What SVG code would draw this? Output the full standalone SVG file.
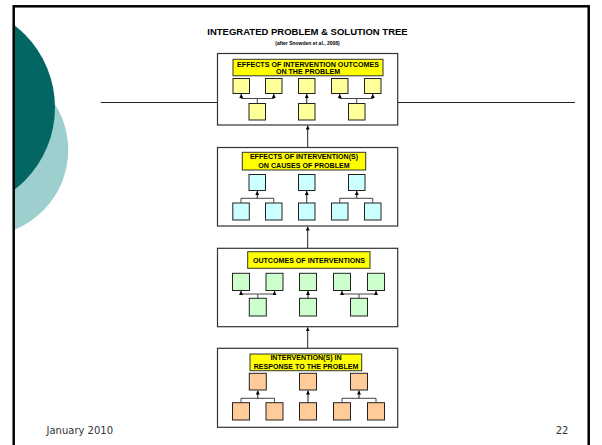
<svg xmlns="http://www.w3.org/2000/svg" width="602" height="445" viewBox="0 0 602 445">
<defs>
<clipPath id="frame"><rect x="15" y="7.5" width="572" height="440"/></clipPath>
<marker id="ah" viewBox="0 0 6 6" refX="6" refY="3" markerWidth="4" markerHeight="4" markerUnits="userSpaceOnUse" orient="auto"><path d="M0,0 L6,3 L0,6 z" fill="#000"/></marker>
</defs>
<style>
.panel{fill:#fff;stroke:#333;stroke-width:1.2}
.lbl{fill:#ffff00;stroke:#333;stroke-width:1}
.lt{font-family:"Liberation Sans",Arial,sans-serif;font-weight:bold;font-size:7.1px;text-anchor:middle;fill:#000}
.sq{stroke:#222;stroke-width:1}
.y{fill:#ffff99}.c{fill:#ccffff}.g{fill:#ccffcc}.o{fill:#ffcc99}
.cn{fill:none;stroke:#444;stroke-width:1}
.ar{fill:none;stroke:#222;stroke-width:1;marker-end:url(#ah)}
.ft{font-family:"DejaVu Sans",Verdana,sans-serif;font-size:10px;fill:#333}
</style>
<rect width="602" height="445" fill="#fff"/>
<g id="decor" clip-path="url(#frame)">
<circle cx="-17.8" cy="150" r="86" fill="#9dcfcf"/>
<circle cx="-48.5" cy="107.5" r="103.5" fill="#036662"/>
</g>
<rect id="slide-frame" x="13.7" y="6.3" width="575" height="460" fill="none" stroke="#000" stroke-width="2.5"/>
<g id="title">
<text x="307.5" y="35" font-family="Liberation Sans, Arial, sans-serif" font-weight="bold" font-size="9.5" text-anchor="middle">INTEGRATED PROBLEM &amp; SOLUTION TREE</text>
<text x="307.5" y="44.5" font-family="Liberation Sans, Arial, sans-serif" font-weight="bold" font-size="5" text-anchor="middle">(after Snowden et al., 2008)</text>
</g>
<g id="connectors">
<path d="M100.7,102.5 H217.5 M397.7,102.5 H575" stroke="#222" stroke-width="1" fill="none"/>
<path class="ar" d="M307.7,147.5 V125.5"/>
<path class="ar" d="M307.7,248.3 V226.5"/>
<path class="ar" d="M307.7,348.3 V327.2"/>
</g>
<g id="panel-effects-problem">
<rect class="panel" x="217.5" y="53.5" width="180.2" height="71.5"/>
<rect class="lbl" x="233" y="59.3" width="150" height="16.5"/>
<text class="lt" x="308" y="67.3">EFFECTS OF INTERVENTION OUTCOMES</text>
<text class="lt" x="308" y="74">ON THE PROBLEM</text>
<rect class="sq y" x="233" y="78.5" width="16.5" height="15"/>
<rect class="sq y" x="265.5" y="78.5" width="16.5" height="15"/>
<rect class="sq y" x="298.5" y="78.5" width="16.5" height="15"/>
<rect class="sq y" x="331.5" y="78.5" width="16.5" height="15"/>
<rect class="sq y" x="364.5" y="78.5" width="16.5" height="15"/>
<rect class="sq y" x="249" y="103.5" width="16.5" height="16.5"/>
<rect class="sq y" x="298.5" y="103.5" width="16.5" height="16.5"/>
<rect class="sq y" x="348.5" y="103.5" width="16.5" height="16.5"/>
<path class="cn" d="M257.25,103.5 V98.5 M241.25,98.5 H273.75 M356.75,103.5 V98.5 M339.75,98.5 H372.75"/>
<path class="ar" d="M241.25,98.5 V94"/>
<path class="ar" d="M273.75,98.5 V94"/>
<path class="ar" d="M306.75,103.5 V94"/>
<path class="ar" d="M339.75,98.5 V94"/>
<path class="ar" d="M372.75,98.5 V94"/>
</g>
<g id="panel-effects-causes">
<rect class="panel" x="217.5" y="147.5" width="180.2" height="78.5"/>
<rect class="lbl" x="242.3" y="152.3" width="123.4" height="17.7"/>
<text class="lt" x="304" y="159.3">EFFECTS OF INTERVENTION(S)</text>
<text class="lt" x="304" y="167.6">ON CAUSES OF PROBLEM</text>
<rect class="sq c" x="249" y="174.5" width="16.5" height="16"/>
<rect class="sq c" x="298.5" y="174.5" width="16.5" height="16"/>
<rect class="sq c" x="348.5" y="174.5" width="16.5" height="16"/>
<rect class="sq c" x="232.8" y="203" width="16.5" height="17"/>
<rect class="sq c" x="265.5" y="203" width="16.5" height="17"/>
<rect class="sq c" x="298.5" y="203" width="16.5" height="17"/>
<rect class="sq c" x="331.5" y="203" width="16.5" height="17"/>
<rect class="sq c" x="364.5" y="203" width="16.5" height="17"/>
<path class="cn" d="M241,203 V198.3 H273.75 V203 M339.75,203 V198.3 H372.75 V203"/>
<path class="ar" d="M257.25,198.3 V191"/>
<path class="ar" d="M306.75,203 V191"/>
<path class="ar" d="M356.75,198.3 V191"/>
</g>
<g id="panel-outcomes">
<rect class="panel" x="217.5" y="248.3" width="180.2" height="78.4"/>
<rect class="lbl" x="247.7" y="251.7" width="122.3" height="16.6"/>
<text class="lt" x="309" y="263.3">OUTCOMES OF INTERVENTIONS</text>
<rect class="sq g" x="232.5" y="273.3" width="17" height="17.2"/>
<rect class="sq g" x="266" y="273.3" width="17" height="17.2"/>
<rect class="sq g" x="299.5" y="273.3" width="17" height="17.2"/>
<rect class="sq g" x="333.5" y="273.3" width="17" height="17.2"/>
<rect class="sq g" x="367.5" y="273.3" width="17" height="17.2"/>
<rect class="sq g" x="249.3" y="298.3" width="17" height="17.7"/>
<rect class="sq g" x="299.5" y="298.3" width="17" height="17.7"/>
<rect class="sq g" x="350.5" y="298.3" width="17" height="17.7"/>
<path class="cn" d="M257.8,298.3 V294 M241,294 H274.5 M359,298.3 V294 M342,294 H376"/>
<path class="ar" d="M241,294 V291"/>
<path class="ar" d="M274.5,294 V291"/>
<path class="ar" d="M308,298.3 V291"/>
<path class="ar" d="M342,294 V291"/>
<path class="ar" d="M376,294 V291"/>
</g>
<g id="panel-interventions">
<rect class="panel" x="217.5" y="348.3" width="180.2" height="79"/>
<rect class="lbl" x="250" y="354" width="111.7" height="16.7"/>
<text class="lt" x="306" y="359.8">INTERVENTION(S) IN</text>
<text class="lt" x="306" y="368.5">RESPONSE TO THE PROBLEM</text>
<rect class="sq o" x="249.3" y="373.3" width="17" height="16.7"/>
<rect class="sq o" x="299.5" y="373.3" width="17" height="16.7"/>
<rect class="sq o" x="350.5" y="373.3" width="17" height="16.7"/>
<rect class="sq o" x="232.5" y="402.7" width="17" height="17.3"/>
<rect class="sq o" x="266" y="402.7" width="17" height="17.3"/>
<rect class="sq o" x="299.5" y="402.7" width="17" height="17.3"/>
<rect class="sq o" x="333.5" y="402.7" width="17" height="17.3"/>
<rect class="sq o" x="367.5" y="402.7" width="17" height="17.3"/>
<path class="cn" d="M241,402.7 V398.3 H274.5 V402.7 M342,402.7 V398.3 H376 V402.7"/>
<path class="ar" d="M257.8,398.3 V390.5"/>
<path class="ar" d="M308,402.7 V390.5"/>
<path class="ar" d="M359,398.3 V390.5"/>
</g>
<g id="footer">
<text class="ft" x="46.5" y="434">January 2010</text>
<text class="ft" x="562" y="434" text-anchor="middle">22</text>
</g>
</svg>
